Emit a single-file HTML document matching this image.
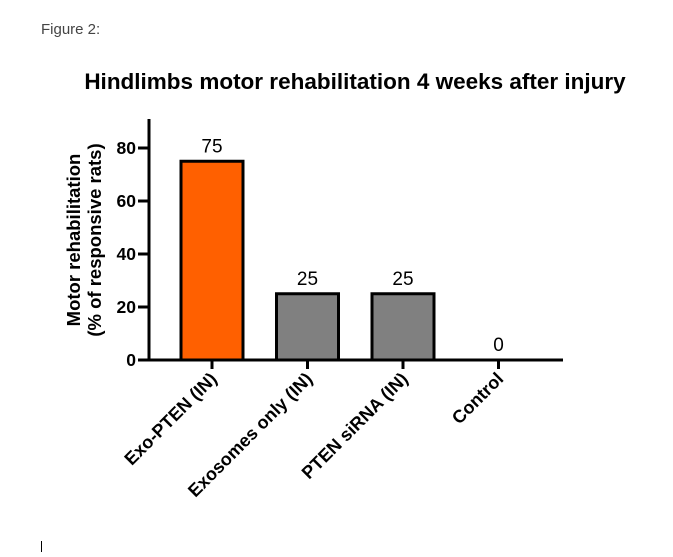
<!DOCTYPE html>
<html><head><meta charset="utf-8"><style>
body{margin:0;background:#fff;width:673px;height:552px;overflow:hidden;font-family:"Liberation Sans",sans-serif}
</style></head><body>
<svg width="673" height="552">
<text x="41" y="34" font-size="15" fill="#444">Figure 2:</text>
<line x1="41.5" y1="541" x2="41.5" y2="552" stroke="#000"/>
<text x="355" y="89" font-size="22.5" font-weight="bold" text-anchor="middle">Hindlimbs motor rehabilitation 4 weeks after injury</text>
<g id="yt" font-weight="bold" font-size="18.5">
<text transform="translate(80,240) rotate(-90)" text-anchor="middle">Motor rehabilitation</text>
<text transform="translate(101,240) rotate(-90)" text-anchor="middle">(% of responsive rats)</text>
</g>
<g id="plot"></g>
</svg>
<script>
const categories=["Exo-PTEN (IN)","Exosomes only (IN)","PTEN siRNA (IN)","Control"];
const values=[75,25,25,0];
const colors=["#ff6000","#808080","#808080","#808080"];
const yTicks=[0,20,40,60,80];
const y0=360,ppu=53/20,x0=149;
const xC=i=>212+i*95.5;
const yS=v=>y0-v*ppu;
const g=document.getElementById('plot');
const NS="http://www.w3.org/2000/svg";
function mk(t,a){const e=document.createElementNS(NS,t);for(const k in a)e.setAttribute(k,a[k]);g.appendChild(e);return e;}
values.forEach((v,i)=>{
 if(v>0){const r=mk('rect',{x:xC(i)-31,y:yS(v),width:62,height:y0-yS(v),fill:colors[i],stroke:'#000','stroke-width':3});
 
 }
 const t=mk('text',{x:xC(i),y:yS(v)-9,'text-anchor':'middle','font-size':19});t.textContent=values[i];
 
 
 const tk=mk('line',{x1:xC(i),x2:xC(i),y1:y0,y2:y0+9,stroke:'#000','stroke-width':3});
 
 
 const l=mk('text',{transform:`translate(${xC(i)+6},${y0+20}) rotate(-45)`,'text-anchor':'end','font-size':18,'font-weight':'bold'});l.textContent=categories[i];
 
 
});
yTicks.forEach(v=>{
 const tk=mk('line',{x1:x0-11,x2:x0,y1:yS(v),y2:yS(v),stroke:'#000','stroke-width':3});
 
 
 const t=mk('text',{x:x0-13,y:yS(v)+6,'text-anchor':'end','font-size':17.5,'font-weight':'bold'});t.textContent=v;
 
 
});
const ya=mk('line',{x1:x0,x2:x0,y1:119,y2:y0+1.5,stroke:'#000','stroke-width':3});


const xa=mk('line',{x1:x0-1.5,x2:563,y1:y0,y2:y0,stroke:'#000','stroke-width':3});


</script>
</body></html>
